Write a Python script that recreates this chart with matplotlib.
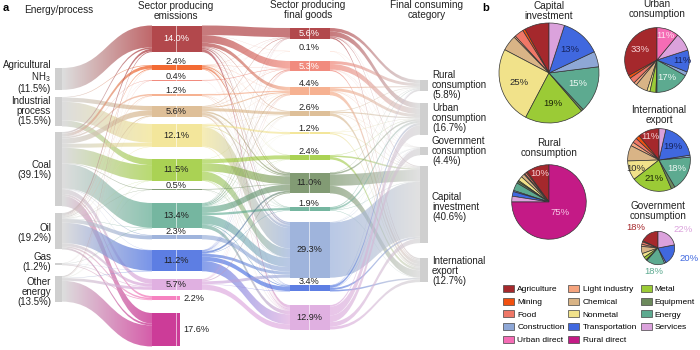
import numpy as np
import matplotlib
matplotlib.use('Agg')
import matplotlib.pyplot as plt
from matplotlib.path import Path
from matplotlib.patches import PathPatch, Rectangle, Patch
from matplotlib.colors import to_rgba

plt.rcParams['font.family'] = ['Liberation Sans', 'DejaVu Sans']

# ---- data -------------------------------------------------------------
source_names = ['Agricultural\n$\\mathregular{NH_3}$', 'Industrial\nprocess', 'Coal', 'Oil', 'Gas', 'Other\nenergy']
source_share = [11.5, 15.5, 39.1, 19.2, 1.2, 13.5]

sectors = ['Agriculture', 'Mining', 'Food', 'Light industry', 'Chemical', 'Nonmetal', 'Metal',
           'Equipment', 'Energy', 'Construction', 'Transportation', 'Services',
           'Urban direct', 'Rural direct']
sector_colors = ['#a5282c', '#f2500f', '#ef7767', '#f5a47e', '#d9b486', '#f1e28a', '#9bcb36',
                 '#6c8a5c', '#5daa90', '#8ea7d6', '#4068df', '#dba2dc', '#f56cb5', '#c41a86']
emit_share = [14.0, 2.4, 0.4, 1.2, 5.6, 12.1, 11.5, 0.5, 13.4, 2.3, 11.2, 5.7, 2.2, 17.6]
goods_share = [5.6, 0.1, 5.3, 4.4, 2.6, 1.2, 2.4, 11.0, 1.9, 29.3, 3.4, 12.9]

final_names = ['Rural\nconsumption', 'Urban\nconsumption', 'Government\nconsumption',
               'Capital\ninvestment', 'International\nexport']
final_share = [5.8, 16.7, 4.4, 40.6, 12.7]

# energy/process -> sector producing emissions (estimated)
src_to_emit = np.array([
    [11.5, 0, 0, 0, 0, 0, 0, 0, 0, 0, 0, 0, 0, 0],
    [0, 0.3, 0, 0, 2.2, 9.8, 3.2, 0, 0, 0, 0, 0, 0, 0],
    [0.8, 1.6, 0.2, 0.8, 2.8, 2.1, 8.1, 0.3, 13.0, 0.3, 0.1, 2.5, 1.0, 5.5],
    [1.2, 0.4, 0.05, 0.3, 0.5, 0.2, 0.1, 0.15, 0.2, 2.0, 10.8, 1.5, 0.8, 1.0],
    [0, 0, 0, 0.1, 0.1, 0, 0, 0, 0.2, 0, 0.1, 0.3, 0.4, 0],
    [0.5, 0.1, 0.15, 0, 0, 0, 0.1, 0.05, 0, 0, 0.2, 1.4, 0, 11.0],
])

# sector producing emissions -> sector producing final goods (estimated)
emit_to_goods = np.array([
    [5.0, 0.05, 4.0, 2.0, 0.3, 0.05, 0.05, 0.3, 0.05, 0.6, 0.1, 1.5],
    [0.08, 0.02, 0.1, 0.1, 0.1, 0, 0.1, 0.5, 0.2, 0.9, 0.1, 0.2],
    [0.05, 0, 0.3, 0, 0, 0, 0, 0, 0, 0, 0, 0.05],
    [0, 0, 0.05, 0.7, 0, 0, 0, 0.1, 0, 0.2, 0, 0.15],
    [0.3, 0, 0.2, 0.6, 1.6, 0, 0, 0.8, 0.1, 1.3, 0.1, 0.6],
    [0, 0, 0, 0.1, 0.1, 0.9, 0, 0.4, 0.1, 10.2, 0, 0.3],
    [0, 0, 0, 0.1, 0, 0, 2.1, 4.3, 0.1, 4.5, 0.2, 0.2],
    [0, 0, 0, 0, 0, 0, 0, 0.3, 0, 0.15, 0, 0.05],
    [0.2, 0.03, 0.5, 0.6, 0.4, 0.1, 0.1, 3.3, 1.2, 4.57, 0.4, 2.0],
    [0, 0, 0, 0, 0, 0, 0, 0, 0, 2.3, 0, 0],
    [0.1, 0, 0.2, 0.3, 0.1, 0.05, 0.05, 1.0, 0.2, 1.5, 2.3, 5.4],
    [0.1, 0, 0.2, 0.3, 0.1, 0, 0, 0.5, 0, 1.5, 0.2, 2.8],
])

# sector producing final goods -> final consuming category (estimated)
goods_to_final = np.array([
    [1.8, 2.6, 0.1, 0.4, 0.7],
    [0, 0, 0, 0.05, 0.05],
    [1.6, 2.9, 0.1, 0.1, 0.6],
    [0.6, 1.5, 0.1, 0.2, 2.0],
    [0.3, 0.6, 0.1, 0.2, 1.4],
    [0.1, 0.2, 0, 0.3, 0.6],
    [0, 0.2, 0, 0.8, 1.4],
    [0.2, 0.8, 0, 6.0, 4.0],
    [0.4, 1.0, 0.1, 0.2, 0.2],
    [0, 0.1, 0.2, 29.0, 0],
    [0.2, 1.2, 0.2, 1.0, 0.8],
    [0.9, 4.6, 3.5, 2.4, 1.5],
])

# pie shares by emitting sector (same order as sectors)
pie_titles = ['Capital\ninvestment', 'Urban\nconsumption', 'International\nexport',
              'Rural\nconsumption', 'Government\nconsumption']
pie_capital = [8, 0.8, 3, 0.5, 5, 25, 19, 0.7, 15, 5, 13, 5, 0, 0]
pie_urban = [33, 1.5, 3, 1.5, 6, 1.5, 3, 0.5, 17, 2, 11, 9, 11, 0]
pie_export = [11, 2, 2.5, 2, 8, 10, 21, 2, 18, 1, 19, 3.5, 0, 0]
pie_rural = [10, 0.5, 0.8, 0.4, 1.5, 2.0, 0.5, 0.8, 3.5, 0.5, 2.0, 2.5, 0, 75]
pie_gov = [18, 1, 2.5, 2, 7, 4, 3, 1, 18, 1.5, 20, 22, 0, 0]

# ---- layout (pixels) --------------------------------------------------
W, H = 700, 350
K = 1.9  # px per percent
c1x = (55, 62)
c2x = (152, 202)
c3x = (290, 330)
c4x = (420, 428)
tops1 = [68, 97, 132, 213, 263, 276]
lab1_y = [77, 111, 170, 233, 262, 292]
tops2 = [25.5, 65, 80, 94, 106, 124, 159, 189, 203, 235, 250, 279, 296, 313]
tops3 = [28, 51, 61, 87, 111, 132, 155, 172.5, 207, 222, 285, 305]
tops4 = [80, 103, 147, 166, 258]
lab4_y = [85, 118, 151, 207, 271]
GRAY = '#cfcfcf'
TXT = '#222222'

fig = plt.figure(figsize=(7, 3.5), dpi=100)
ax = fig.add_axes([0, 0, 1, 1])
ax.set_xlim(0, W)
ax.set_ylim(H, 0)
ax.axis('off')


def ribbon(x0, ya0, yb0, x1, ya1, yb1, c0, c1, alpha=0.6):
    xm = (x0 + x1) / 2
    verts = [(x0, ya0), (xm, ya0), (xm, ya1), (x1, ya1),
             (x1, yb1), (xm, yb1), (xm, yb0), (x0, yb0), (x0, ya0)]
    codes = [Path.MOVETO, Path.CURVE4, Path.CURVE4, Path.CURVE4,
             Path.LINETO, Path.CURVE4, Path.CURVE4, Path.CURVE4, Path.CLOSEPOLY]
    patch = PathPatch(Path(verts, codes), facecolor='none', edgecolor='none')
    ax.add_patch(patch)
    t = np.linspace(0, 1, 40)[:, None]
    rgba = (1 - t) * np.array(to_rgba(c0)) + t * np.array(to_rgba(c1))
    lo = min(ya0, ya1) - 1
    hi = max(yb0, yb1) + 1
    img = ax.imshow(rgba[None, :, :], extent=[x0, x1, hi, lo], aspect='auto',
                    alpha=alpha, zorder=1, interpolation='bilinear')
    img.set_clip_path(patch)


def ends(M, tops_s, h_s, tops_t, h_t):
    src, tgt = {}, {}
    for i in range(M.shape[0]):
        y = tops_s[i]
        tot = M[i].sum()
        for j in range(M.shape[1]):
            w = M[i, j] / tot * h_s[i] if tot else 0
            src[i, j] = (y, y + w)
            y += w
    for j in range(M.shape[1]):
        y = tops_t[j]
        tot = M[:, j].sum()
        for i in range(M.shape[0]):
            w = M[i, j] / tot * h_t[j] if tot else 0
            tgt[i, j] = (y, y + w)
            y += w
    return src, tgt


h1 = [v * K for v in source_share]
h2 = [v * K for v in emit_share]
h3 = [v * K for v in goods_share]
h4 = [v * K for v in final_share]

# links col1 -> col2
s, t = ends(src_to_emit, tops1, h1, tops2, h2)
for i in range(src_to_emit.shape[0]):
    for j in range(src_to_emit.shape[1]):
        if src_to_emit[i, j] > 0:
            ribbon(c1x[1], *s[i, j], c2x[0], *t[i, j], GRAY, sector_colors[j], 0.7)

# links col2 -> col3
s, t = ends(emit_to_goods, tops2[:12], h2[:12], tops3, h3)
for i in range(emit_to_goods.shape[0]):
    for j in range(emit_to_goods.shape[1]):
        if emit_to_goods[i, j] > 0:
            ribbon(c2x[1], *s[i, j], c3x[0], *t[i, j], sector_colors[i], sector_colors[j], 0.62)

# links col3 -> col4
s, t = ends(goods_to_final, tops3, h3, tops4, h4)
for i in range(goods_to_final.shape[0]):
    for j in range(goods_to_final.shape[1]):
        if goods_to_final[i, j] > 0:
            ribbon(c3x[1], *s[i, j], c4x[0], *t[i, j], sector_colors[i], GRAY, 0.62)

# nodes col1
for i, name in enumerate(source_names):
    ax.add_patch(Rectangle((c1x[0], tops1[i]), c1x[1] - c1x[0], h1[i], color=GRAY, zorder=2, lw=0))
    ax.text(51, lab1_y[i], f'{name}\n({source_share[i]}%)', ha='right', va='center',
            fontsize=7, color=TXT, linespacing=1.0)

# nodes col2
white_lab2 = {'Agriculture'}
for j, name in enumerate(sectors):
    right = c2x[1] if j < 12 else 180
    ax.add_patch(Rectangle((c2x[0], tops2[j]), right - c2x[0], h2[j], color=sector_colors[j],
                           alpha=0.85, zorder=2, lw=0))
    ax.plot([176, 176], [tops2[j], tops2[j] + h2[j]], color='white', lw=0.6, alpha=0.7, zorder=3)
    lab = f'{emit_share[j]:.1f}%'
    if j >= 12:
        ax.text(183, tops2[j] + h2[j] / 2, lab, ha='left', va='center', fontsize=6.6, color=TXT)
        continue
    ly = tops2[j] + h2[j] / 2 if h2[j] >= 9 else tops2[j] - 3.5
    ax.text(176, ly, lab, ha='center', va='center', fontsize=6.6, zorder=4,
            color='white' if name in white_lab2 else TXT)

# nodes col3
white_lab3 = {'Agriculture', 'Food'}
for j in range(12):
    ax.add_patch(Rectangle((c3x[0], tops3[j]), c3x[1] - c3x[0], h3[j], color=sector_colors[j],
                           alpha=0.85, zorder=2, lw=0))
    ax.plot([309, 309], [tops3[j], tops3[j] + h3[j]], color='white', lw=0.6, alpha=0.7, zorder=3)
    ly = tops3[j] + h3[j] / 2 if h3[j] >= 9 else tops3[j] - 3.5
    ax.text(309, ly, f'{goods_share[j]:.1f}%', ha='center', va='center', fontsize=6.6, zorder=4,
            color='white' if sectors[j] in white_lab3 else TXT)

# nodes col4
for k, name in enumerate(final_names):
    ax.add_patch(Rectangle((c4x[0], tops4[k]), c4x[1] - c4x[0], h4[k], color=GRAY, zorder=2, lw=0))
    ax.text(432, lab4_y[k], f'{name}\n({final_share[k]}%)', ha='left', va='center',
            fontsize=7, color=TXT, linespacing=1.0)

# headers
ax.text(3, 8, 'a', fontsize=8, fontweight='bold', ha='left', va='center')
ax.text(482, 8, 'b', fontsize=8, fontweight='bold', ha='left', va='center')
ax.text(59, 10, 'Energy/process', fontsize=7.2, ha='center', va='center', color=TXT)
ax.text(176, 11, 'Sector producing\nemissions', fontsize=7.2, ha='center', va='center', color=TXT, linespacing=1.05)
ax.text(308, 10, 'Sector producing\nfinal goods', fontsize=7.2, ha='center', va='center', color=TXT, linespacing=1.05)
ax.text(427, 10, 'Final consuming\ncategory', fontsize=7.2, ha='center', va='center', color=TXT, linespacing=1.05)

# ---- panel b: pies ----------------------------------------------------
lab_color = {'Agriculture': '#f6d2d6', 'Urban direct': '#fde3f0', 'Transportation': '#16235c',
             'Energy': '#eef8f3', 'Metal': '#1c2508', 'Nonmetal': '#2a2a2a', 'Rural direct': '#f7c9e6'}


def draw_pie(vals, cx, cy, r, title, ty, outside=False):
    pa = fig.add_axes([(cx - r) / W, 1 - (cy + r) / H, 2 * r / W, 2 * r / H])
    keep = [i for i, v in enumerate(vals) if v > 0]
    wedges, _ = pa.pie([vals[i] for i in keep], colors=[sector_colors[i] for i in keep],
                       startangle=90, counterclock=True,
                       wedgeprops=dict(edgecolor='#333333', linewidth=0.5))
    pa.set_xlim(-1.02, 1.02)
    pa.set_ylim(-1.02, 1.02)
    pa.set_aspect('equal')
    for w, i in zip(wedges, keep):
        v = vals[i]
        if v < 10:
            continue
        ang = np.deg2rad((w.theta1 + w.theta2) / 2)
        if outside:
            rr = 1.45
            x, y = rr * np.cos(ang), rr * np.sin(ang)
            ha = 'right' if np.cos(ang) < -0.3 else ('left' if np.cos(ang) > 0.3 else 'center')
            pa.text(x, y, f'{v:.0f}%', ha=ha, va='center', fontsize=6.8, color=sector_colors[i],
                    clip_on=False)
        else:
            rr = 0.4 if v > 50 else (0.8 if v <= 11 else 0.62)
            pa.text(rr * np.cos(ang), rr * np.sin(ang), f'{v:.0f}%', ha='center', va='center',
                    fontsize=6.8, color=lab_color.get(sectors[i], TXT))
    ax.text(cx, ty, title, ha='center', va='center', fontsize=7.2, color=TXT, linespacing=1.05)


draw_pie(pie_capital, 549, 73, 51, pie_titles[0], 11)
draw_pie(pie_urban, 657, 60, 33, pie_titles[1], 9)
draw_pie(pie_export, 659, 160, 32, pie_titles[2], 115)
draw_pie(pie_rural, 549, 202, 38, pie_titles[3], 148)
draw_pie(pie_gov, 658, 248, 17, pie_titles[4], 211, outside=True)

# legend
legend_order = [0, 1, 2, 9, 12, 3, 4, 5, 10, 13, 6, 7, 8, 11]
handles = [Patch(facecolor=sector_colors[i], edgecolor='#444444', linewidth=0.5) for i in legend_order]
fig.legend(handles, [sectors[i] for i in legend_order], ncol=3, loc='upper left',
           bbox_to_anchor=(503 / W, 1 - 285 / H), frameon=False, fontsize=6.0,
           handlelength=1.3, handleheight=0.95, handletextpad=0.4,
           columnspacing=0.45, labelspacing=0.5, borderaxespad=0, borderpad=0)

fig.savefig('out.png', dpi=100)
